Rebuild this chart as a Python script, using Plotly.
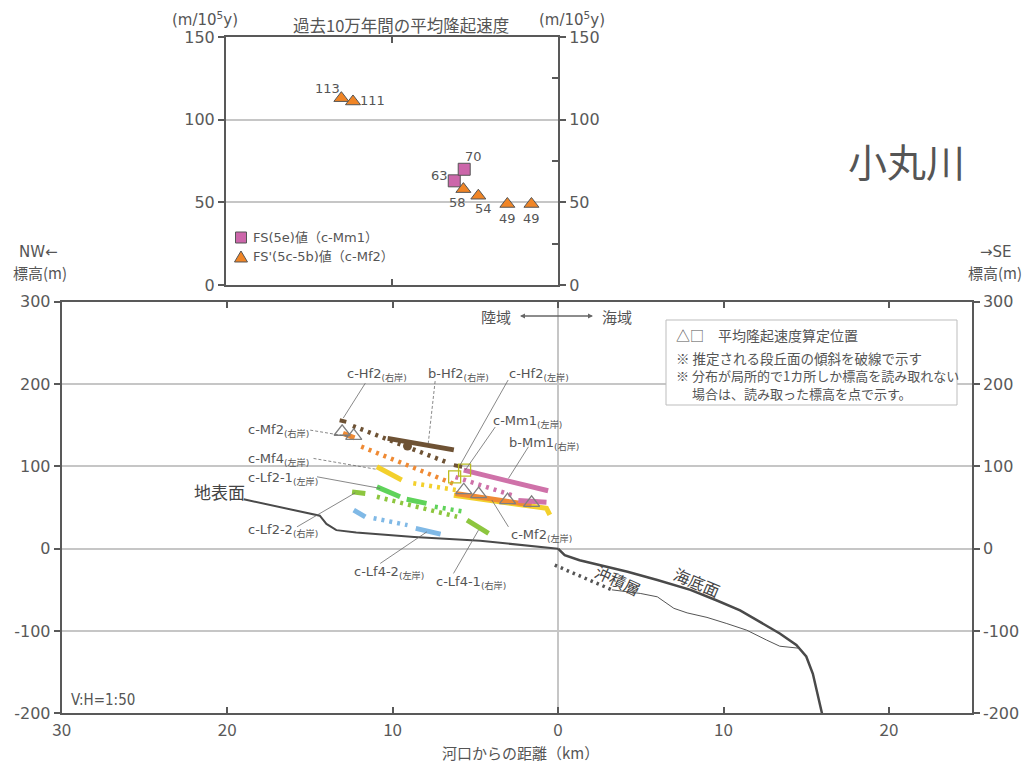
import plotly.graph_objects as go

W, H = 1027, 767

# ---------------- uplift-rate panel (m / 10^5 y) ----------------
mm1_rate_x = [-6.25, -5.65]
mm1_rate = [63, 70]
mf2_rate_x = [-13.05, -12.35, -5.7, -4.8, -3.05, -1.6]
mf2_rate = [113, 111, 58, 54, 49, 49]

# ---------------- river profile panel (km, m) ----------------
ground_x = [-19.0, -14.4, -14.0, -13.4, -12.2, -8.7, -4.7, -0.2, 0.0]
ground_y = [60, 40, 30, 22.5, 19.7, 14.3, 9.5, 0.5, 0]

seafloor_x = [0.0, 0.4, 1.3, 2.5, 4.2, 6.0, 8.0, 9.6, 11.0, 12.2, 13.4, 14.4, 15.0, 15.4, 15.95]
seafloor_y = [0, -8, -14, -20, -28, -38, -50, -63, -75, -89, -103, -117, -131, -152, -200]

alluvium_top_x = [-0.2, 3.25]
alluvium_top_y = [-20, -50]
alluvium_base_x = [3.25, 5.0, 6.0, 7.0, 7.8, 9.0, 10.2, 11.4, 12.6, 13.4, 14.6]
alluvium_base_y = [-50, -54.5, -58.5, -72.5, -78, -83.5, -91, -99, -111, -118.5, -121]

# terrace surfaces
c_hf2_r_x, c_hf2_r_y = [-13.2, -12.8], [156, 154]
c_hf2_r_est_x, c_hf2_r_est_y = [-12.4, -6.6], [149, 104]
c_hf2_l_x, c_hf2_l_y = [-6.3, -5.8], [101.5, 99.4]
b_hf2_x, b_hf2_y = [-10.3, -6.3], [134, 120]
b_hf2_pt_x, b_hf2_pt_y = [-9.1], [124.6]
c_mf2_r_x, c_mf2_r_y = [-13.0, -12.3], [140, 134.5]
c_mf2_r_est_x, c_mf2_r_est_y = [-11.9, -6.1], [124, 77]
c_mf2_l_x, c_mf2_l_y = [-6.2, -1.6], [67, 53]
c_mf4_a_x, c_mf4_a_y = [-10.95, -9.45], [99.5, 83.5]
c_mf4_est_x, c_mf4_est_y = [-8.75, -6.1], [79.5, 71]
c_mf4_b_x, c_mf4_b_y = [-6.3, -0.7, -0.5], [65, 49, 41]
c_mm1_est_x, c_mm1_est_y = [-6.2, -2.8], [87, 65]
c_mm1_x, c_mm1_y = [-2.4, -0.7], [58.5, 56.5]
b_mm1_x, b_mm1_y = [-5.7, -0.6], [95.4, 70.3]
c_lf2_1_x, c_lf2_1_y = [-10.95, -9.55], [75, 63]
c_lf2_1_b_x, c_lf2_1_b_y = [-9.15, -7.95], [60, 55]
c_lf2_1_est_x, c_lf2_1_est_y = [-7.45, -5.6], [51, 44.7]
c_lf2_2_x, c_lf2_2_y = [-12.45, -11.65], [69, 67]
c_lf2_2_est_x, c_lf2_2_est_y = [-10.95, -6.1], [63, 38.7]
c_lf4_1_x, c_lf4_1_y = [-5.5, -4.2], [34.6, 18.5]
c_lf4_2_a_x, c_lf4_2_a_y = [-12.35, -11.65], [46.8, 38.7]
c_lf4_2_est_x, c_lf4_2_est_y = [-11.15, -9.1], [37, 28.6]
c_lf4_2_b_x, c_lf4_2_b_y = [-8.6, -7.1], [24.6, 17.6]

# uplift-rate evaluation points on the profile
tri_pos_x = [-13.05, -12.35, -5.7, -4.8, -3.05, -1.6]
tri_pos_y = [142, 137, 71, 66.3, 59, 55.7]
sq_pos_x = [-6.25, -5.65]
sq_pos_y = [87.3, 95.4]

dist_ticks = [-30, -20, -10, 0, 10, 20]
dist_labels = ["30", "20", "10", "0", "10", "20"]
elev_ticks = [-200, -100, 0, 100, 200, 300]
elev_labels = ["-200", "-100", "0", "100", "200", "300"]
rate_ticks = [0, 50, 100, 150]

# ---------------- styling ----------------
AX = "#595959"
GRID = "#c6c6c6"
TXT = "#555555"
BROWN = "#6e5234"
ORANGE = "#ef8a34"
YELLOW = "#f3d02c"
GREEN = "#5fd35a"
YGREEN = "#8dc63f"
BLUE = "#80b9e6"
PINK = "#cf72a9"
LATIN = "DejaVu Sans, Noto Sans CJK JP"
JP = "Noto Sans CJK JP"
DOTS = "3px,5px"


def px(x):
    return x / W


def py(y):
    return 1 - y / H


fig = go.Figure()


def seg(x, y, color, est=False, width=5):
    fig.add_trace(go.Scatter(
        x=x, y=y, mode="lines", xaxis="x", yaxis="y",
        line=dict(color=color, width=4.5 if est else width,
                  dash=DOTS if est else "solid"),
        hoverinfo="skip"))


# profile: ground, seafloor, alluvium
fig.add_trace(go.Scatter(x=ground_x, y=ground_y, mode="lines",
                         line=dict(color="#4a4a4a", width=2), hoverinfo="skip"))
fig.add_trace(go.Scatter(x=seafloor_x, y=seafloor_y, mode="lines",
                         line=dict(color="#4a4a4a", width=2.5), hoverinfo="skip"))
fig.add_trace(go.Scatter(x=alluvium_base_x, y=alluvium_base_y, mode="lines",
                         line=dict(color="#555555", width=1), hoverinfo="skip"))
fig.add_trace(go.Scatter(x=alluvium_top_x, y=alluvium_top_y, mode="lines",
                         line=dict(color="#555555", width=3.5, dash="2.5px,4px"),
                         hoverinfo="skip"))

# terraces
seg(c_hf2_r_est_x, c_hf2_r_est_y, BROWN, est=True)
seg(c_hf2_r_x, c_hf2_r_y, BROWN, width=4)
seg(c_hf2_l_x, c_hf2_l_y, BROWN, width=4)
seg(b_hf2_x, b_hf2_y, BROWN)
fig.add_trace(go.Scatter(x=b_hf2_pt_x, y=b_hf2_pt_y, mode="markers",
                         marker=dict(color=BROWN, size=9), hoverinfo="skip"))
seg(c_mf2_r_est_x, c_mf2_r_est_y, ORANGE, est=True)
seg(c_mf2_r_x, c_mf2_r_y, ORANGE)
seg(c_mf4_a_x, c_mf4_a_y, YELLOW)
seg(c_mf4_est_x, c_mf4_est_y, YELLOW, est=True)
seg(c_mf4_b_x, c_mf4_b_y, YELLOW)
seg(c_mf2_l_x, c_mf2_l_y, ORANGE)
seg(c_lf2_1_x, c_lf2_1_y, GREEN)
seg(c_lf2_1_b_x, c_lf2_1_b_y, GREEN)
seg(c_lf2_1_est_x, c_lf2_1_est_y, GREEN, est=True)
seg(c_lf2_2_x, c_lf2_2_y, YGREEN)
seg(c_lf2_2_est_x, c_lf2_2_est_y, YGREEN, est=True)
seg(c_lf4_1_x, c_lf4_1_y, YGREEN)
seg(c_lf4_2_a_x, c_lf4_2_a_y, BLUE)
seg(c_lf4_2_est_x, c_lf4_2_est_y, BLUE, est=True)
seg(c_lf4_2_b_x, c_lf4_2_b_y, BLUE)
seg(b_mm1_x, b_mm1_y, PINK)
seg(c_mm1_est_x, c_mm1_est_y, PINK, est=True)
seg(c_mm1_x, c_mm1_y, PINK)

fig.add_trace(go.Scatter(x=tri_pos_x, y=tri_pos_y, mode="markers",
                         marker=dict(symbol="triangle-up-open", size=14,
                                     line=dict(color="#555555", width=1.3)),
                         hoverinfo="skip"))
fig.add_trace(go.Scatter(x=sq_pos_x, y=sq_pos_y, mode="markers",
                         marker=dict(symbol="square-open", size=12,
                                     line=dict(color="#555555", width=1.3)),
                         hoverinfo="skip"))

# uplift-rate panel
fig.add_trace(go.Scatter(
    x=mm1_rate_x, y=mm1_rate, mode="markers", xaxis="x2", yaxis="y2",
    marker=dict(symbol="square", size=12, color="#cc66aa",
                line=dict(color="#555555", width=1)),
    hoverinfo="skip"))
fig.add_trace(go.Scatter(
    x=mf2_rate_x, y=mf2_rate, mode="markers", xaxis="x2", yaxis="y2",
    marker=dict(symbol="triangle-up", size=13, color="#f08526",
                line=dict(color="#555555", width=1)),
    hoverinfo="skip"))

# right-hand axes need something attached
fig.add_trace(go.Scatter(x=[None], y=[None], xaxis="x2", yaxis="y3",
                         hoverinfo="skip"))
fig.add_trace(go.Scatter(x=[None], y=[None], xaxis="x", yaxis="y4",
                         hoverinfo="skip"))

tickfont = dict(family=LATIN, size=16, color=AX)

fig.update_layout(
    template="none",
    width=W, height=H, autosize=False,
    margin=dict(l=0, r=0, t=0, b=0),
    paper_bgcolor="white", plot_bgcolor="rgba(0,0,0,0)",
    showlegend=False,
    xaxis=dict(domain=[px(61.7), px(971.7)], range=[-30, 25], anchor="y",
               tickvals=dist_ticks, ticktext=dist_labels,
               tickfont=dict(family="Liberation Sans Narrow, " + JP, size=17, color=AX),
               ticks="inside", ticklen=6, tickcolor=AX, tickwidth=1.5,
               showline=True, linecolor=AX, linewidth=2, mirror="ticks",
               showgrid=False, zeroline=True, zerolinecolor=GRID, zerolinewidth=2,
               automargin=False),
    yaxis=dict(domain=[py(713.3), py(301.7)], range=[-200, 300], anchor="x",
               tickvals=elev_ticks, ticktext=elev_labels, tickfont=tickfont,
               ticks="outside", ticklen=6, tickcolor=AX, tickwidth=1.5,
               showline=True, linecolor=AX, linewidth=2, mirror=True,
               showgrid=True, gridcolor=GRID, gridwidth=2,
               zeroline=True, zerolinecolor=GRID, zerolinewidth=2,
               automargin=False),
    yaxis4=dict(overlaying="y", side="right", anchor="x", range=[-200, 300],
                tickvals=elev_ticks, ticktext=elev_labels, tickfont=tickfont,
                ticks="outside", ticklen=6, tickcolor=AX, tickwidth=1.5,
                showline=True, linecolor=AX, linewidth=2,
                showgrid=False, zeroline=False, automargin=False),
    xaxis2=dict(domain=[px(226), px(558)], range=[-20, 0], anchor="y2",
                tickvals=[-10], showticklabels=False,
                ticks="inside", ticklen=6, tickcolor=AX, tickwidth=1.5,
                showline=True, linecolor=AX, linewidth=2, mirror="ticks",
                showgrid=False, zeroline=False, automargin=False),
    yaxis2=dict(domain=[py(285), py(37)], range=[0, 150], anchor="x2",
                tickvals=rate_ticks, tickfont=tickfont,
                ticks="outside", ticklen=6, tickcolor=AX, tickwidth=1.5,
                showline=True, linecolor=AX, linewidth=2,
                showgrid=True, gridcolor=GRID, gridwidth=2,
                zeroline=False, automargin=False),
    yaxis3=dict(overlaying="y2", side="right", anchor="x2", range=[0, 150],
                tickvals=rate_ticks, tickfont=tickfont,
                ticks="outside", ticklen=6, tickcolor=AX, tickwidth=1.5,
                minor=dict(tickvals=[25, 75, 125], ticks="inside", ticklen=6,
                           tickcolor=AX, tickwidth=1.5),
                showline=True, linecolor=AX, linewidth=2,
                showgrid=False, zeroline=False, automargin=False),
)

shapes = []
# note box on the profile panel
shapes.append(dict(type="rect", xref="paper", yref="paper", layer="above",
                   x0=px(666), x1=px(957), y0=py(405), y1=py(320),
                   line=dict(color="#bdbdbd", width=1), fillcolor="white"))
# legend keys of the uplift-rate panel
shapes.append(dict(type="rect", xref="paper", yref="paper", layer="above",
                   x0=px(235.5), x1=px(246.5), y0=py(243), y1=py(232),
                   line=dict(color="#555555", width=1), fillcolor="#cc66aa"))
shapes.append(dict(type="path", xref="paper", yref="paper", layer="above",
                   path="M {:.5f},{:.5f} L {:.5f},{:.5f} L {:.5f},{:.5f} Z".format(
                       px(234.5), py(262), px(247.5), py(262), px(241), py(251)),
                   line=dict(color="#555555", width=1), fillcolor="#f08526"))

# leader lines: (x0, y0, x1, y1, dashed)
leaders = [
    (-11.65, 201, -12.98, 158.7, False),
    (-7.43, 203.6, -7.85, 127, True),
    (-3.02, 204.8, -5.92, 101.5, False),
    (-3.8, 147.7, -5.61, 95.4, False),
    (-1.79, 123.8, -3.0, 85.3, False),
    (-14.98, 144, -12.56, 135.9, True),
    (-14.78, 109.6, -10.95, 96.3, True),
    (-14.57, 87.3, -10.75, 73.2, False),
    (-15.78, 26.5, -12.26, 67.8, False),
    (-10.75, -18, -7.93, 20.4, False),
    (-6.32, -30.1, -4.81, 22.5, False),
    (-3.0, 26.5, -4.0, 59, False),
]
for x0, y0, x1, y1, dashed in leaders:
    shapes.append(dict(type="line", xref="x", yref="y", x0=x0, y0=y0, x1=x1, y1=y1,
                       line=dict(color="#6a6a6a", width=0.8,
                                 dash="3px,2px" if dashed else "solid")))
fig.update_layout(shapes=shapes)

ann = []


def text(t, x, y, size=13, family=LATIN, color=TXT, xanchor="left", angle=0):
    ann.append(dict(text=t, x=px(x), y=py(y), xref="paper", yref="paper",
                    showarrow=False, xanchor=xanchor, yanchor="middle",
                    textangle=angle, font=dict(family=family, size=size, color=color)))


# value labels of the uplift-rate panel (pixel offsets from each marker)
rate_offsets_mm1 = [(-15, 5), (9, 13)]
rate_offsets_mf2 = [(-14, 10), (20, 1), (-6, -13), (5, -13), (0, -15), (0, -15)]
for xs, vs, offs in ((mm1_rate_x, mm1_rate, rate_offsets_mm1),
                     (mf2_rate_x, mf2_rate, rate_offsets_mf2)):
    for xv, v, (dx, dy) in zip(xs, vs, offs):
        ann.append(dict(text=str(v), x=xv, y=v, xref="x2", yref="y2",
                        showarrow=False, xshift=dx, yshift=dy,
                        font=dict(family=LATIN, size=13, color=TXT)))

# terrace labels
text("c-Hf2<sub>(右岸)</sub>", 345, 374)
text("b-Hf2<sub>(右岸)</sub>", 426, 374)
text("c-Hf2<sub>(左岸)</sub>", 507, 374)
text("c-Mm1<sub>(左岸)</sub>", 491, 421)
text("b-Mm1<sub>(右岸)</sub>", 507, 443)
text("c-Mf2<sub>(右岸)</sub>", 246, 430)
text("c-Mf4<sub>(左岸)</sub>", 246, 459)
text("c-Lf2-1<sub>(左岸)</sub>", 246, 478)
text("c-Lf2-2<sub>(右岸)</sub>", 246, 530)
text("c-Lf4-2<sub>(左岸)</sub>", 352, 572)
text("c-Lf4-1<sub>(右岸)</sub>", 434, 582)
text("c-Mf2<sub>(左岸)</sub>", 509, 535)
text("地表面", 192, 491, size=17, family=JP, color="#444444")
text("沖積層", 618, 580, size=16, family=JP, color="#444444", xanchor="center", angle=25)
text("海底面", 697, 582, size=16, family=JP, color="#444444", xanchor="center", angle=23)
text("陸域", 496, 316, size=15, family=JP, xanchor="center")
text("海域", 617, 316, size=15, family=JP, xanchor="center")
text("V:H=1:50", 69, 700, size=15, family="DejaVu Sans Condensed, DejaVu Sans")
text("小丸川", 906, 160, size=39, family=JP, xanchor="center")

# axis captions
text("NW←", 38, 252, size=15, family=LATIN, xanchor="center")
text("標高(m)", 40, 273, size=15, family=JP, xanchor="center")
text("→SE", 996, 252, size=15, family=LATIN, xanchor="center")
text("標高(m)", 995, 273, size=15, family=JP, xanchor="center")
text("河口からの距離（km）", 520, 752, size=15, family=JP, xanchor="center")
text("(m/10<sup>5</sup>y)", 205, 19, size=15, family=LATIN, xanchor="center")
text("(m/10<sup>5</sup>y)", 572, 19, size=15, family=LATIN, xanchor="center")
text("過去10万年間の平均隆起速度", 401, 25, size=16.5, family=JP, xanchor="center")

# legend of the uplift-rate panel
text("FS(5e)値（c-Mm1）", 251, 238, size=13, family=LATIN)
text("FS'(5c-5b)値（c-Mf2）", 251, 257, size=13, family=LATIN)

# note box text
text("△□　平均隆起速度算定位置", 674, 335, size=14, family=JP)
text("※ 推定される段丘面の傾斜を破線で示す", 674, 358, size=13.5, family=JP)
text("※ 分布が局所的で1カ所しか標高を読み取れない", 674, 376, size=13, family=JP)
text("　 場合は、読み取った標高を点で示す。", 674, 393, size=13, family=JP)

# land / sea arrows
for head, tail in ((593, 520), (520, 593)):
    ann.append(dict(text="", x=px(head), y=py(316), xref="paper", yref="paper",
                    ax=tail - head, ay=0, showarrow=True, arrowhead=2,
                    arrowsize=1, arrowwidth=1, arrowcolor="#666666"))

fig.update_layout(annotations=ann)

fig.write_html("out.html")
